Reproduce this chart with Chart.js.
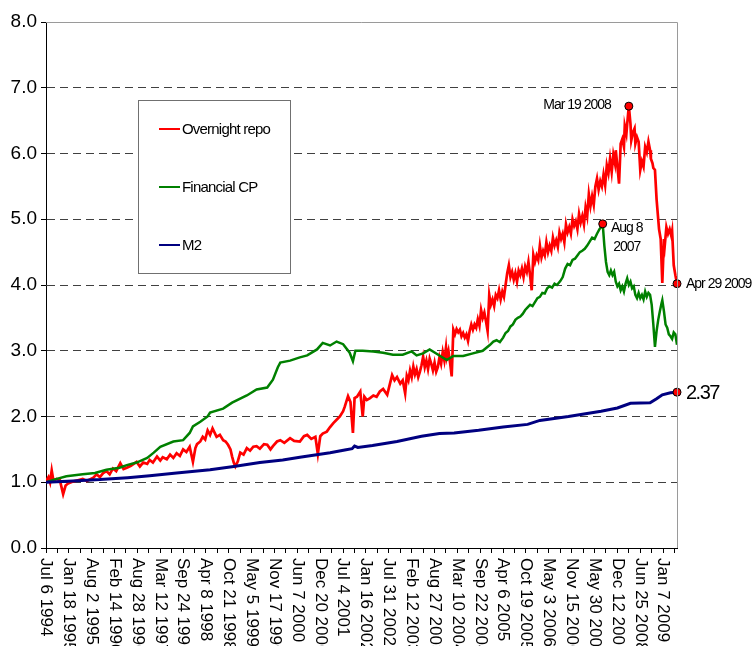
<!DOCTYPE html>
<html>
<head>
<meta charset="utf-8">
<script src="https://cdn.jsdelivr.net/npm/chart.js@4.4.1/dist/chart.umd.min.js"></script>
<style>
  body { margin: 0; background: #fff; }
  #wrap { width: 752px; height: 646px; }
</style>
</head>
<body>
<div id="wrap"><canvas id="myChart" width="752" height="646"></canvas></div>
<script>
// x = weeks since Jul 6 1994
const tickLabels = ["Jul 6 1994","Jan 18 1995","Aug 2 1995","Feb 14 1996","Aug 28 1996","Mar 12 1997","Sep 24 1997","Apr 8 1998","Oct 21 1998","May 5 1999","Nov 17 1999","Jun 7 2000","Dec 20 2000","Jul 4 2001","Jan 16 2002","Jul 31 2002","Feb 12 2003","Aug 27 2003","Mar 10 2004","Sep 22 2004","Apr 6 2005","Oct 19 2005","May 3 2006","Nov 15 2006","May 30 2007","Dec 12 2007","Jun 25 2008","Jan 7 2009"];
const labelStep = 28;
const tickStep = 14;
const lastWeek = 773;

const repoWeeks = [0,3,5,7,9,13,17,21,24,27,33,39,45,50,58,62,66,70,74,78,82,86,91,95,99,104,111,115,119,124,127,131,136,140,143,148,152,156,160,164,168,172,176,180,183,185,189,192,195,198,201,204,209,213,217,220,223,226,228,230,232,235,238,242,246,250,254,258,262,267,271,275,278,283,287,292,299,304,311,316,320,325,330,333,336,339,344,348,352,356,360,364,366,370,373,376,378,381,385,388,390,393,397,401,405,409,413,418,421,424,427,430,434,437,
  440,442,444,446,448,450,452,454,456,458,460,462,464,466,468,470,472,474,476,478,480,482,484,486,488,490,491,493,495,497,499,501,503,505,507,509,511,513,515,517,519,521,523,525,527,529,531,533,535,537,539,541,543,545,547,549,551,553,555,557,559,561,563,565,567,569,571,573,575,577,579,581,583,585,587,589,591,593,595,597,599,601,603,605,607,609,611,613,615,617,619,621,623,625,627,629,631,633,635,637,639,641,643,645,647,649,651,653,655,657,659,661,663,665,667,669,671,673,675,677,679,681,683,685,687,689,691,693,695,697,698,700,702,704,706,708,709,711,712,714,716,717,719,721,722,724,726,728,730,732,734,736,738,740,741,743,744,746,748,750,751,753,755,757,758,760,762,764,766,767,769,771,773];
const repoValues = [1.02,1.08,1.00,1.18,1.03,1.05,1.03,0.82,0.95,0.98,1.01,1.03,1.05,1.02,1.07,1.12,1.08,1.14,1.17,1.12,1.21,1.17,1.29,1.20,1.22,1.25,1.31,1.24,1.30,1.28,1.34,1.30,1.39,1.33,1.38,1.35,1.42,1.37,1.44,1.40,1.50,1.46,1.54,1.31,1.52,1.58,1.62,1.69,1.65,1.79,1.72,1.82,1.69,1.72,1.64,1.62,1.57,1.50,1.39,1.30,1.24,1.32,1.45,1.42,1.52,1.48,1.54,1.55,1.51,1.58,1.57,1.50,1.55,1.62,1.64,1.60,1.67,1.63,1.62,1.70,1.72,1.66,1.69,1.43,1.70,1.74,1.77,1.84,1.90,1.95,2.00,2.08,2.15,2.31,2.22,1.75,2.28,2.30,2.38,2.00,2.30,2.25,2.28,2.32,2.30,2.38,2.42,2.33,2.48,2.63,2.55,2.60,2.50,2.55,
  2.35,2.62,2.55,2.70,2.60,2.76,2.64,2.72,2.60,2.68,2.78,2.91,2.75,2.85,2.72,2.88,2.80,2.70,2.82,2.68,2.75,2.90,2.80,2.98,2.85,3.05,2.90,3.00,2.82,2.61,3.32,3.25,3.33,3.28,3.32,3.22,3.27,3.20,3.25,3.15,3.30,3.40,3.32,3.40,3.35,3.48,3.38,3.62,3.50,3.58,3.45,3.30,3.85,3.70,3.78,3.68,3.85,3.80,3.92,3.78,3.90,3.82,4.00,4.18,4.30,4.12,4.20,4.08,4.18,4.05,4.22,4.15,4.25,4.12,4.28,4.20,4.35,4.15,3.92,4.46,4.35,4.45,4.38,4.60,4.42,4.52,4.45,4.65,4.50,4.60,4.52,4.72,4.60,4.68,4.58,4.80,4.70,4.78,4.65,4.92,4.80,4.88,4.78,5.00,4.90,4.97,4.85,5.08,4.95,5.05,4.92,5.18,5.05,5.38,5.20,5.35,5.22,5.50,5.62,5.45,5.58,5.50,5.68,5.52,5.82,5.70,5.92,5.72,5.98,5.85,6.05,5.80,5.54,6.15,6.22,6.10,6.42,6.30,6.45,6.72,6.45,6.20,6.32,6.38,6.15,6.25,6.18,5.75,5.88,5.80,6.10,6.02,6.18,6.05,5.92,5.85,5.78,5.75,5.30,5.00,4.85,4.70,4.03,4.70,4.60,4.88,4.78,4.85,4.75,4.82,4.30,4.15,4.02];

const cpWeeks = [0,10,25,45,60,74,90,99,111,124,132,140,156,168,176,180,189,198,201,217,228,246,258,271,278,284,287,299,311,320,332,339,348,356,364,372,376,379,388,401,413,425,437,448,454,462,470,479,491,499,511,523,535,
  544,548,552,556,560,563,566,569,572,575,578,581,584,587,590,593,596,599,602,605,608,611,614,617,620,623,626,630,633,636,639,642,645,648,651,654,657,660,663,666,669,672,675,678,680,682,684,686,688,690,692,694,696,698,700,702,704,706,708,710,712,714,716,718,720,722,724,726,728,730,732,734,736,738,740,742,744,746,748,750,752,754,755,757,759,761,763,765,767,769,771,773];
const cpValues = [1.00,1.04,1.09,1.12,1.14,1.19,1.22,1.26,1.30,1.37,1.45,1.54,1.62,1.64,1.75,1.85,1.92,2.00,2.06,2.12,2.21,2.32,2.41,2.44,2.56,2.75,2.82,2.85,2.90,2.93,3.02,3.12,3.08,3.14,3.10,2.97,2.84,3.00,3.00,2.99,2.97,2.94,2.94,2.99,2.93,2.96,3.02,2.95,2.86,2.92,2.92,2.96,3.00,
  3.09,3.14,3.16,3.13,3.20,3.27,3.30,3.37,3.40,3.47,3.50,3.52,3.56,3.62,3.66,3.70,3.68,3.74,3.80,3.82,3.88,3.87,3.95,3.98,3.96,4.02,4.00,4.06,4.12,4.25,4.32,4.30,4.38,4.40,4.45,4.50,4.52,4.55,4.60,4.66,4.72,4.70,4.78,4.85,4.88,4.93,4.60,4.35,4.20,4.15,4.22,4.15,4.20,4.05,3.98,4.02,3.92,3.98,3.90,4.02,4.10,4.00,4.05,3.95,3.98,3.85,3.80,3.88,3.80,3.85,3.78,3.90,3.82,3.88,3.85,3.70,3.40,3.06,3.30,3.47,3.60,3.72,3.77,3.60,3.40,3.35,3.25,3.22,3.18,3.28,3.25,3.09];

const m2Weeks = [0,33,66,100,127,160,201,230,262,290,311,348,366,375,378,382,400,430,460,482,500,530,560,590,605,640,680,700,716,740,748,755,765,773];
const m2Values = [1.00,1.02,1.04,1.07,1.10,1.14,1.19,1.24,1.30,1.34,1.38,1.45,1.49,1.51,1.55,1.53,1.56,1.62,1.70,1.74,1.75,1.79,1.84,1.88,1.94,2.00,2.08,2.13,2.20,2.21,2.27,2.33,2.36,2.37];

// marked points
const markWeeks = [714, 682, 773, 773];
const markValues = [6.72, 4.93, 4.02, 2.37];

const toPts = (w, v) => w.map((x, i) => ({x: x, y: v[i]}));

const FONT = '"Liberation Sans", Arial, sans-serif';

// 凡例と注記とx軸ラベル
const decor = {
  id: 'decor',
  afterDraw(chart) {
    const ctx = chart.ctx;
    const a = chart.chartArea;
    const xs = chart.scales.x, ys = chart.scales.y;

    // top / right frame
    ctx.save();
    ctx.strokeStyle = '#9a9a9a';
    ctx.lineWidth = 1;
    ctx.beginPath();
    ctx.moveTo(a.left, a.top + 0.5);
    ctx.lineTo(a.right + 0.5, a.top + 0.5);
    ctx.lineTo(a.right + 0.5, a.bottom);
    ctx.stroke();
    ctx.restore();

    // legend box
    ctx.save();
    ctx.fillStyle = '#fff';
    ctx.fillRect(138, 100, 152, 173);
    ctx.strokeStyle = '#707070';
    ctx.lineWidth = 1;
    ctx.strokeRect(138.5, 100.5, 152, 173);
    const items = [['Overnight repo', '#ff0000', 129], ['Financial CP', '#008000', 187], ['M2', '#000080', 245]];
    ctx.font = '15px ' + FONT;
    ctx.letterSpacing = '-0.8px';
    ctx.textBaseline = 'middle';
    ctx.textAlign = 'left';
    items.forEach(([t, c, y]) => {
      ctx.strokeStyle = c;
      ctx.lineWidth = 2;
      ctx.beginPath();
      ctx.moveTo(159, y);
      ctx.lineTo(180, y);
      ctx.stroke();
      ctx.fillStyle = '#000';
      ctx.fillText(t, 182, y + 1);
    });
    ctx.restore();

    // annotations
    const px = markWeeks.map(w => xs.getPixelForValue(w));
    const py = markValues.map(v => ys.getPixelForValue(v));
    ctx.save();
    ctx.fillStyle = '#000';
    ctx.textBaseline = 'middle';
    ctx.font = '14px ' + FONT;
    ctx.letterSpacing = '-1px';
    ctx.textAlign = 'right';
    ctx.fillText('Mar 19 2008', px[0] - 18, py[0] - 1);
    ctx.textAlign = 'center';
    ctx.fillText('Aug 8', px[1] + 24, py[1] + 4);
    ctx.fillText('2007', px[1] + 24, py[1] + 23);
    ctx.textAlign = 'left';
    ctx.fillText('Apr 29 2009', px[2] + 9, py[2]);
    ctx.font = '20px ' + FONT;
    ctx.letterSpacing = '-1.5px';
    ctx.fillText('2.37', px[3] + 9, py[3] + 1);
    ctx.restore();

    // rotated x labels
    ctx.save();
    ctx.font = '17px ' + FONT;
    ctx.fillStyle = '#000';
    ctx.textAlign = 'left';
    ctx.textBaseline = 'middle';
    tickLabels.forEach((t, i) => {
      ctx.save();
      ctx.translate(xs.getPixelForValue(i * labelStep), a.bottom + 10);
      ctx.rotate(Math.PI / 2);
      ctx.fillText(t, 0, 0);
      ctx.restore();
    });
    ctx.restore();
  }
};

const config = {
  type: 'line',
  data: {
    datasets: [
      {
        data: toPts(markWeeks, markValues),
        showLine: false,
        pointRadius: 4,
        pointBackgroundColor: '#ff0000',
        pointBorderColor: '#000',
        pointBorderWidth: 1,
        clip: false
      },
      { data: toPts(m2Weeks, m2Values), borderColor: '#000080', borderWidth: 3, pointRadius: 0 },
      { data: toPts(cpWeeks, cpValues), borderColor: '#008000', borderWidth: 2.5, pointRadius: 0 },
      { data: toPts(repoWeeks, repoValues), borderColor: '#ff0000', borderWidth: 2.7, pointRadius: 0 }
    ]
  },
  options: {
    responsive: false,
    animation: false,
    layout: { padding: { top: 22, right: 75, left: 0, bottom: 0 } },
    plugins: { legend: { display: false }, tooltip: { enabled: false } },
    elements: { line: { tension: 0 } },
    scales: {
      x: {
        type: 'linear',
        min: 0,
        max: lastWeek,
        afterBuildTicks: (axis) => {
          const t = [];
          for (let w = 0; w <= lastWeek; w += tickStep) t.push({value: w});
          axis.ticks = t;
        },
        afterFit: (axis) => { axis.height = 98; },
        ticks: { display: false },
        grid: { drawOnChartArea: false, drawTicks: true, tickLength: 5, tickColor: '#000' },
        border: { color: '#000', width: 1 }
      },
      y: {
        min: 0,
        max: 8,
        afterFit: (axis) => { axis.width = 46; },
        ticks: {
          stepSize: 1,
          padding: 4,
          color: '#000',
          font: { family: FONT, size: 19 },
          callback: (v) => v.toFixed(1)
        },
        grid: {
          color: (c) => (c.tick && (c.tick.value === 0 || c.tick.value === 8)) ? 'rgba(0,0,0,0)' : '#404040',
          lineWidth: 1,
          tickLength: 5,
          tickColor: '#000'
        },
        border: { color: '#000', width: 1, dash: [8, 5] }
      }
    }
  },
  plugins: [decor]
};

const myChart = new Chart(document.getElementById('myChart'), config);
</script>
</body>
</html>
